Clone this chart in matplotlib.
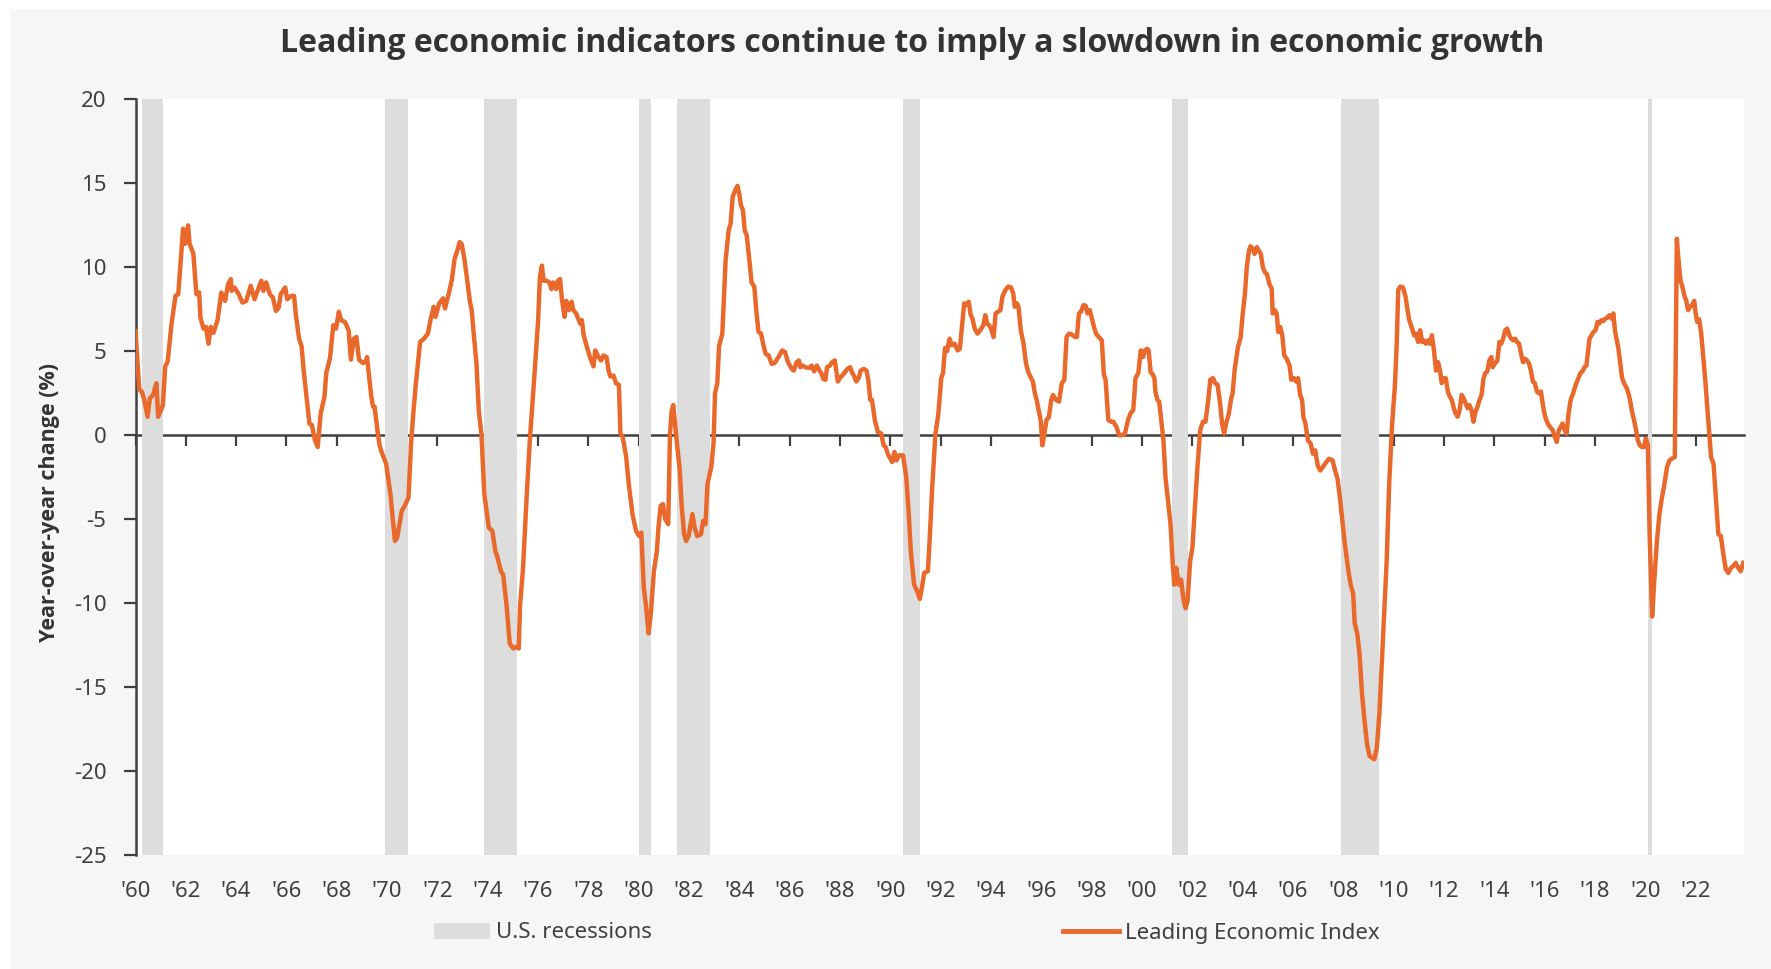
import numpy as np
import matplotlib
matplotlib.use('Agg')
from matplotlib import pyplot as plt
from matplotlib import font_manager
from matplotlib.patches import Rectangle, Patch
from matplotlib.ticker import FuncFormatter, MultipleLocator

plt.rcParams['font.family'] = ['Noto Sans', 'DejaVu Sans']
plt.rcParams['axes.unicode_minus'] = False

# bold text: pick a family that really has a bold face
bold_family = 'DejaVu Sans'
for fam in ['Open Sans', 'Lato', 'Roboto', 'Liberation Sans']:
    try:
        f = font_manager.findfont(font_manager.FontProperties(family=fam, weight='bold'),
                                  fallback_to_default=False)
        if 'bold' in f.lower() or 'black' in f.lower():
            bold_family = fam
            break
    except ValueError:
        pass

##################
# data
##################
# NBER recessions, start / end as decimal years
rec_start = [1960.25, 1969.92, 1973.84, 1980.00, 1981.50, 1990.50, 2001.17, 2007.92, 2020.09]
rec_end = [1961.09, 1970.84, 1975.17, 1980.50, 1982.84, 1991.17, 2001.84, 2009.42, 2020.26]

# Leading Economic Index, year-over-year change (%)
lei_date = [
    1960.00, 1960.15, 1960.25, 1960.35, 1960.48, 1960.57, 1960.70, 1960.83, 1960.90, 1961.09,
    1961.18, 1961.28, 1961.43, 1961.59, 1961.70, 1961.89, 1961.97, 1962.09, 1962.15, 1962.30,
    1962.42, 1962.53, 1962.58, 1962.70, 1962.80, 1962.90, 1962.99, 1963.10, 1963.26, 1963.41,
    1963.56, 1963.68, 1963.79, 1963.82, 1963.94, 1964.10, 1964.25, 1964.40, 1964.58, 1964.73,
    1964.85, 1965.00, 1965.08, 1965.19, 1965.34, 1965.46, 1965.58, 1965.69, 1965.77, 1965.95,
    1966.03, 1966.20, 1966.30, 1966.37, 1966.50, 1966.60, 1966.68, 1966.83, 1966.91, 1967.01,
    1967.13, 1967.24, 1967.36, 1967.51, 1967.58, 1967.73, 1967.86, 1967.97, 1968.08, 1968.17,
    1968.32, 1968.47, 1968.56, 1968.68, 1968.78, 1968.88, 1969.04, 1969.16, 1969.20, 1969.30,
    1969.37, 1969.44, 1969.50, 1969.63, 1969.70, 1969.78, 1969.96, 1970.13, 1970.31, 1970.40,
    1970.58, 1970.70, 1970.85, 1970.95, 1971.05, 1971.15, 1971.31, 1971.46, 1971.62, 1971.72,
    1971.85, 1971.92, 1972.07, 1972.22, 1972.30, 1972.45, 1972.57, 1972.68, 1972.79, 1972.88,
    1972.96, 1973.06, 1973.18, 1973.29, 1973.36, 1973.44, 1973.55, 1973.64, 1973.75, 1973.86,
    1974.04, 1974.18, 1974.30, 1974.39, 1974.52, 1974.61, 1974.75, 1974.87, 1975.01, 1975.13,
    1975.23, 1975.28, 1975.40, 1975.55, 1975.67, 1975.84, 1976.00, 1976.07, 1976.15, 1976.22,
    1976.34, 1976.45, 1976.53, 1976.60, 1976.72, 1976.79, 1976.87, 1976.95, 1977.05, 1977.12,
    1977.23, 1977.33, 1977.40, 1977.51, 1977.67, 1977.74, 1977.80, 1977.90, 1978.06, 1978.20,
    1978.27, 1978.40, 1978.50, 1978.60, 1978.72, 1978.80, 1978.87, 1979.00, 1979.09, 1979.21,
    1979.27, 1979.36, 1979.50, 1979.60, 1979.75, 1979.89, 1980.01, 1980.10, 1980.20, 1980.29,
    1980.39, 1980.48, 1980.60, 1980.72, 1980.78, 1980.87, 1980.96, 1981.05, 1981.17, 1981.24,
    1981.31, 1981.37, 1981.49, 1981.63, 1981.70, 1981.80, 1981.88, 1981.98, 1982.13, 1982.22,
    1982.32, 1982.47, 1982.56, 1982.65, 1982.73, 1982.88, 1982.97, 1983.03, 1983.12, 1983.19,
    1983.32, 1983.38, 1983.45, 1983.57, 1983.65, 1983.73, 1983.84, 1983.92, 1983.99, 1984.06,
    1984.14, 1984.21, 1984.29, 1984.41, 1984.48, 1984.59, 1984.68, 1984.76, 1984.86, 1984.94,
    1985.04, 1985.16, 1985.28, 1985.40, 1985.55, 1985.70, 1985.81, 1985.93, 1986.08, 1986.16,
    1986.27, 1986.36, 1986.42, 1986.51, 1986.62, 1986.77, 1986.87, 1986.97, 1987.08, 1987.18,
    1987.27, 1987.33, 1987.42, 1987.48, 1987.60, 1987.68, 1987.79, 1987.91, 1987.99, 1988.14,
    1988.29, 1988.40, 1988.47, 1988.55, 1988.64, 1988.75, 1988.82, 1988.94, 1989.05, 1989.12,
    1989.20, 1989.27, 1989.38, 1989.50, 1989.63, 1989.73, 1989.81, 1989.89, 1989.96, 1990.07,
    1990.16, 1990.24, 1990.34, 1990.50, 1990.63, 1990.72, 1990.81, 1990.94, 1991.08, 1991.17,
    1991.26, 1991.34, 1991.49, 1991.57, 1991.66, 1991.79, 1991.90, 1992.02, 1992.09, 1992.17,
    1992.25, 1992.35, 1992.44, 1992.55, 1992.67, 1992.76, 1992.84, 1992.93, 1993.01, 1993.11,
    1993.19, 1993.26, 1993.35, 1993.46, 1993.57, 1993.69, 1993.77, 1993.84, 1993.92, 1994.00,
    1994.10, 1994.18, 1994.27, 1994.37, 1994.45, 1994.57, 1994.68, 1994.79, 1994.88, 1994.94,
    1995.03, 1995.09, 1995.18, 1995.29, 1995.39, 1995.48, 1995.59, 1995.66, 1995.74, 1995.81,
    1995.89, 1995.97, 1996.04, 1996.12, 1996.20, 1996.30, 1996.39, 1996.46, 1996.58, 1996.70,
    1996.81, 1996.91, 1997.00, 1997.10, 1997.21, 1997.34, 1997.41, 1997.49, 1997.57, 1997.67,
    1997.76, 1997.83, 1997.92, 1998.02, 1998.09, 1998.17, 1998.28, 1998.40, 1998.48, 1998.55,
    1998.66, 1998.78, 1998.86, 1998.98, 1999.09, 1999.20, 1999.32, 1999.44, 1999.54, 1999.65,
    1999.74, 1999.85, 1999.95, 2000.04, 2000.11, 2000.20, 2000.26, 2000.34, 2000.41, 2000.49,
    2000.53, 2000.61, 2000.68, 2000.76, 2000.85, 2000.93, 2001.07, 2001.13, 2001.22, 2001.28,
    2001.36, 2001.45, 2001.55, 2001.65, 2001.73, 2001.81, 2001.91, 2002.00, 2002.10, 2002.20,
    2002.31, 2002.42, 2002.52, 2002.63, 2002.71, 2002.82, 2002.90, 2003.00, 2003.10, 2003.18,
    2003.26, 2003.34, 2003.45, 2003.53, 2003.60, 2003.68, 2003.81, 2003.92, 2004.00, 2004.09,
    2004.16, 2004.25, 2004.31, 2004.41, 2004.47, 2004.56, 2004.64, 2004.72, 2004.80, 2004.88,
    2004.96, 2005.07, 2005.15, 2005.19, 2005.27, 2005.35, 2005.41, 2005.49, 2005.57, 2005.65,
    2005.75, 2005.86, 2005.93, 2006.04, 2006.12, 2006.20, 2006.28, 2006.36, 2006.41, 2006.49,
    2006.59, 2006.70, 2006.79, 2006.88, 2006.98, 2007.08, 2007.18, 2007.32, 2007.43, 2007.57,
    2007.67, 2007.77, 2007.86, 2007.96, 2008.06, 2008.20, 2008.29, 2008.39, 2008.45, 2008.55,
    2008.64, 2008.74, 2008.84, 2008.94, 2009.04, 2009.13, 2009.23, 2009.33, 2009.43, 2009.52,
    2009.62, 2009.72, 2009.82, 2009.93, 2010.05, 2010.12, 2010.18, 2010.26, 2010.37, 2010.47,
    2010.55, 2010.62, 2010.73, 2010.81, 2010.89, 2010.97, 2011.05, 2011.13, 2011.20, 2011.28,
    2011.36, 2011.44, 2011.52, 2011.60, 2011.68, 2011.76, 2011.84, 2011.91, 2012.00, 2012.07,
    2012.15, 2012.23, 2012.31, 2012.39, 2012.46, 2012.54, 2012.62, 2012.70, 2012.78, 2012.86,
    2012.94, 2013.01, 2013.09, 2013.17, 2013.25, 2013.33, 2013.41, 2013.49, 2013.57, 2013.64,
    2013.72, 2013.80, 2013.88, 2013.93, 2014.01, 2014.12, 2014.20, 2014.27, 2014.35, 2014.43,
    2014.51, 2014.59, 2014.67, 2014.75, 2014.83, 2014.90, 2014.98, 2015.06, 2015.14, 2015.22,
    2015.30, 2015.38, 2015.45, 2015.53, 2015.61, 2015.69, 2015.77, 2015.85, 2015.90, 2015.96,
    2016.04, 2016.12, 2016.21, 2016.32, 2016.40, 2016.48, 2016.56, 2016.64, 2016.71, 2016.79,
    2016.87, 2016.95, 2017.03, 2017.11, 2017.19, 2017.26, 2017.34, 2017.42, 2017.50, 2017.58,
    2017.66, 2017.71, 2017.78, 2017.86, 2017.94, 2018.02, 2018.10, 2018.17, 2018.25, 2018.33,
    2018.41, 2018.49, 2018.57, 2018.65, 2018.73, 2018.79, 2018.84, 2018.92, 2018.99, 2019.07,
    2019.15, 2019.23, 2019.31, 2019.39, 2019.47, 2019.55, 2019.62, 2019.70, 2019.78, 2019.86,
    2019.94, 2020.02, 2020.10, 2020.17, 2020.27, 2020.37, 2020.46, 2020.56, 2020.66, 2020.76,
    2020.86, 2020.96, 2021.05, 2021.17, 2021.25, 2021.33, 2021.40, 2021.47, 2021.56, 2021.62,
    2021.70, 2021.78, 2021.86, 2021.94, 2022.00, 2022.06, 2022.14, 2022.22, 2022.30, 2022.38,
    2022.46, 2022.54, 2022.61, 2022.71, 2022.80, 2022.90, 2023.00, 2023.10, 2023.20, 2023.30,
    2023.40, 2023.49, 2023.59, 2023.69, 2023.79, 2023.89,
]
lei_yoy = [
    6.2, 2.7, 2.6, 2.1, 1.1, 2.2, 2.4, 3.1, 1.1, 1.8,
    4.1, 4.4, 6.6, 8.3, 8.4, 12.3, 11.4, 12.5, 11.4, 10.8,
    8.4, 8.5, 7.0, 6.35, 6.45, 5.45, 6.45, 6.1, 6.85, 8.5,
    8.0, 9.0, 9.3, 8.6, 8.8, 8.4, 7.9, 8.0, 8.9, 8.1,
    8.6, 9.2, 8.6, 9.1, 8.4, 8.2, 7.4, 7.6, 8.4, 8.8,
    8.1, 8.3, 8.3, 7.2, 5.75, 5.3, 3.9, 1.8, 0.7, 0.6,
    -0.3, -0.7, 1.3, 2.3, 3.7, 4.6, 6.55, 6.35, 7.35, 6.85,
    6.75, 6.25, 4.5, 5.75, 5.85, 4.5, 4.3, 4.4, 4.65, 3.3,
    2.3, 1.7, 1.7, 0.1, -0.6, -1.0, -1.7, -3.5, -6.3, -6.1,
    -4.5, -4.2, -3.7, -0.5, 1.5, 3.2, 5.55, 5.75, 6.05, 6.85,
    7.65, 7.05, 7.85, 8.15, 7.55, 8.45, 9.25, 10.5, 11.0, 11.5,
    11.4, 10.6, 9.25, 7.95, 7.45, 6.05, 4.25, 1.5, 0.0, -3.5,
    -5.5, -5.7, -6.9, -7.3, -8.1, -8.3, -10.2, -12.4, -12.7, -12.6,
    -12.7, -10.2, -7.9, -3.5, -0.3, 3.3, 6.85, 9.4, 10.1, 9.2,
    9.2, 9.1, 8.7, 9.1, 8.7, 9.2, 9.3, 8.05, 7.05, 8.0,
    7.45, 7.95, 7.45, 7.25, 6.65, 6.85, 6.05, 5.45, 4.65, 4.1,
    5.05, 4.65, 4.45, 4.75, 4.65, 3.85, 3.5, 3.55, 3.1, 3.0,
    0.1, -0.1, -1.3, -2.9, -4.7, -5.7, -6.0, -5.8, -9.1, -10.2,
    -11.8, -10.6, -8.1, -6.9, -5.5, -4.2, -4.1, -5.0, -5.3, 0.1,
    1.5, 1.8, -0.1, -2.1, -4.1, -5.9, -6.3, -6.0, -4.7, -5.5,
    -6.0, -5.9, -5.1, -5.3, -2.9, -1.9, -0.5, 2.5, 3.1, 5.3,
    6.05, 8.0, 10.4, 12.2, 12.6, 14.2, 14.6, 14.85, 14.4, 13.7,
    13.4, 12.2, 11.9, 10.2, 9.1, 8.85, 7.25, 6.15, 6.05, 5.45,
    4.85, 4.75, 4.25, 4.3, 4.65, 5.05, 4.95, 4.35, 3.95, 3.85,
    4.35, 4.45, 4.05, 4.15, 4.05, 4.0, 4.15, 3.8, 4.15, 3.85,
    3.65, 3.35, 3.3, 4.05, 4.15, 4.35, 4.45, 3.2, 3.4, 3.65,
    3.95, 4.05, 3.75, 3.55, 3.2, 3.45, 3.85, 3.95, 3.85, 3.3,
    2.1, 2.1, 0.9, 0.2, 0.1, -0.6, -0.7, -1.1, -1.3, -1.6,
    -1.0, -1.5, -1.2, -1.2, -2.5, -4.5, -6.9, -8.9, -9.35, -9.75,
    -9.0, -8.2, -8.1, -5.9, -3.1, 0.1, 1.2, 3.4, 3.7, 5.2,
    5.0, 5.75, 5.35, 5.45, 5.05, 5.15, 6.45, 7.85, 7.75, 7.95,
    7.15, 6.95, 6.35, 6.05, 6.25, 6.55, 7.15, 6.65, 6.55, 6.35,
    5.85, 7.25, 7.35, 7.45, 8.25, 8.65, 8.85, 8.8, 8.45, 7.65,
    7.85, 7.65, 6.25, 5.45, 4.25, 3.75, 3.4, 3.2, 2.5, 2.1,
    1.5, 0.9, -0.6, 0.1, 0.9, 1.1, 2.1, 2.4, 2.1, 2.0,
    3.1, 3.3, 5.85, 6.05, 6.0, 5.85, 5.85, 7.25, 7.35, 7.75,
    7.7, 7.25, 7.45, 6.85, 6.45, 6.05, 5.85, 5.65, 3.65, 3.3,
    0.9, 0.8, 0.8, 0.5, 0.0, 0.0, 0.1, 0.9, 1.3, 1.5,
    3.4, 3.7, 5.05, 4.65, 5.05, 5.15, 5.05, 3.75, 3.65, 3.4,
    2.6, 2.1, 2.0, 0.9, -0.3, -2.5, -4.5, -5.3, -7.7, -8.9,
    -7.9, -8.9, -8.6, -9.85, -10.3, -9.85, -7.5, -6.7, -4.3, -1.9,
    0.3, 0.8, 0.8, 2.1, 3.3, 3.4, 3.1, 3.0, 1.9, 0.7,
    0.1, 0.7, 1.3, 2.1, 2.5, 3.9, 5.25, 5.85, 7.25, 8.45,
    10.0, 11.0, 11.25, 11.1, 10.8, 11.2, 11.0, 10.8, 10.0, 9.7,
    9.6, 8.95, 8.75, 7.25, 7.45, 7.25, 6.15, 6.45, 5.95, 4.75,
    4.55, 4.15, 3.3, 3.4, 3.2, 3.4, 2.4, 2.1, 1.1, 0.7,
    -0.3, -0.5, -1.1, -0.9, -1.8, -2.1, -1.9, -1.6, -1.4, -1.5,
    -2.1, -2.6, -3.7, -5.1, -6.5, -8.1, -8.9, -9.45, -11.2, -11.8,
    -13.0, -15.4, -17.0, -18.4, -19.1, -19.2, -19.3, -18.6, -16.6, -13.8,
    -10.8, -7.5, -2.9, 0.5, 3.0, 5.5, 8.65, 8.85, 8.8, 8.25,
    7.45, 6.85, 6.35, 5.95, 6.05, 5.55, 6.25, 5.55, 5.65, 5.45,
    5.65, 5.45, 5.95, 5.05, 3.85, 4.35, 3.85, 3.1, 3.4, 3.4,
    2.6, 2.3, 2.1, 1.6, 1.3, 1.1, 1.5, 2.4, 2.2, 1.9,
    1.6, 1.8, 1.5, 0.8, 1.4, 1.7, 2.1, 2.4, 3.4, 3.7,
    3.8, 4.45, 4.65, 4.05, 4.25, 4.45, 5.55, 5.45, 5.75, 6.25,
    6.35, 5.95, 5.75, 5.65, 5.75, 5.55, 5.45, 4.85, 4.35, 4.55,
    4.45, 4.25, 3.85, 3.2, 3.1, 2.6, 2.5, 2.6, 2.1, 1.5,
    1.0, 0.7, 0.5, 0.3, -0.1, -0.4, 0.3, 0.5, 0.7, 0.3,
    0.1, 1.3, 2.1, 2.4, 2.8, 3.1, 3.4, 3.7, 3.8, 4.05,
    4.15, 4.85, 5.75, 5.95, 6.15, 6.25, 6.75, 6.65, 6.85, 6.8,
    6.95, 7.0, 7.15, 6.95, 7.25, 6.25, 5.85, 5.25, 4.45, 3.45,
    3.1, 2.9, 2.6, 2.1, 1.4, 0.9, 0.4, -0.3, -0.6, -0.7,
    -0.7, -0.2, -0.6, -5.9, -10.8, -8.3, -6.3, -4.7, -3.7, -2.9,
    -1.9, -1.5, -1.4, -1.3, 11.7, 10.2, 9.2, 8.85, 8.25, 8.05,
    7.45, 7.65, 7.75, 8.0, 7.25, 6.75, 6.9, 6.05, 4.65, 3.3,
    1.7, 0.1, -1.3, -1.7, -3.7, -5.9, -6.0, -7.1, -8.0, -8.2,
    -7.9, -7.8, -7.6, -7.9, -8.1, -7.6,
]

##################
# style
##################
orange = '#E8692B'
shade = '#dddddd'
dark = '#404040'

W, H = 1771, 969
fig = plt.figure(figsize=(W / 100, H / 100), dpi=100, facecolor='white')
fig.add_artist(Rectangle((10 / W, 0), 1, 1 - 9 / H, transform=fig.transFigure,
                         facecolor='#f6f6f6', edgecolor='none', zorder=-10))

ax = fig.add_axes([135.5 / W, 1 - 855 / H, (1744 - 135.5) / W, (855 - 99.4) / H])
ax.set_facecolor('white')

for s, e in zip(rec_start, rec_end):
    ax.axvspan(s, e, color=shade, lw=0, zorder=1)

ax.plot(lei_date, lei_yoy, color=orange, lw=3.2, solid_joinstyle='round', zorder=3)

ax.set_xlim(1960, 2023.92)
ax.set_ylim(-25, 20)

# y axis
ax.yaxis.set_major_locator(MultipleLocator(5))
ax.tick_params(axis='y', length=9, width=1.6, color=dark, labelcolor=dark, labelsize=16, pad=12)
ax.spines['left'].set_color(dark)
ax.spines['left'].set_linewidth(1.8)
for s in ['top', 'right', 'bottom']:
    ax.spines[s].set_visible(False)

# x labels at the bottom, ticks on the zero line
ax.xaxis.set_major_locator(MultipleLocator(2))
ax.xaxis.set_major_formatter(FuncFormatter(lambda v, p: "'%02d" % (int(round(v)) % 100)))
ax.tick_params(axis='x', length=0, labelcolor=dark, labelsize=16, pad=19)

zero = ax.secondary_xaxis(0, transform=ax.transData)
zero.xaxis.set_major_locator(MultipleLocator(2))
zero.tick_params(axis='x', length=8, width=1.6, color=dark, labelbottom=False)
zero.spines['bottom'].set_color(dark)
zero.spines['bottom'].set_linewidth(1.8)

##################
# text
##################
fig.text(912 / W, 1 - 44 / H, 'Leading economic indicators continue to imply a slowdown in economic growth',
         ha='center', va='center', fontsize=23, fontweight='bold', color='#333333',
         family=bold_family)
fig.text(50 / W, 1 - 503 / H, 'Year-over-year change (%)', rotation=90, ha='center', va='center',
         fontsize=15.5, fontweight='bold', color='#333333', family=bold_family)

handles = [Patch(facecolor=shade, edgecolor='none'),
           plt.Line2D([0], [0], color=orange, lw=3.5)]
fig.legend(handles, ['U.S. recessions', 'Leading Economic Index'], loc='center',
           bbox_to_anchor=(907 / W, 1 - 933 / H), ncol=2, frameon=False, fontsize=16,
           handlelength=2.5, handletextpad=0.3, columnspacing=18.5, labelcolor=dark)

fig.savefig('out.png', dpi=100, facecolor=fig.get_facecolor())
